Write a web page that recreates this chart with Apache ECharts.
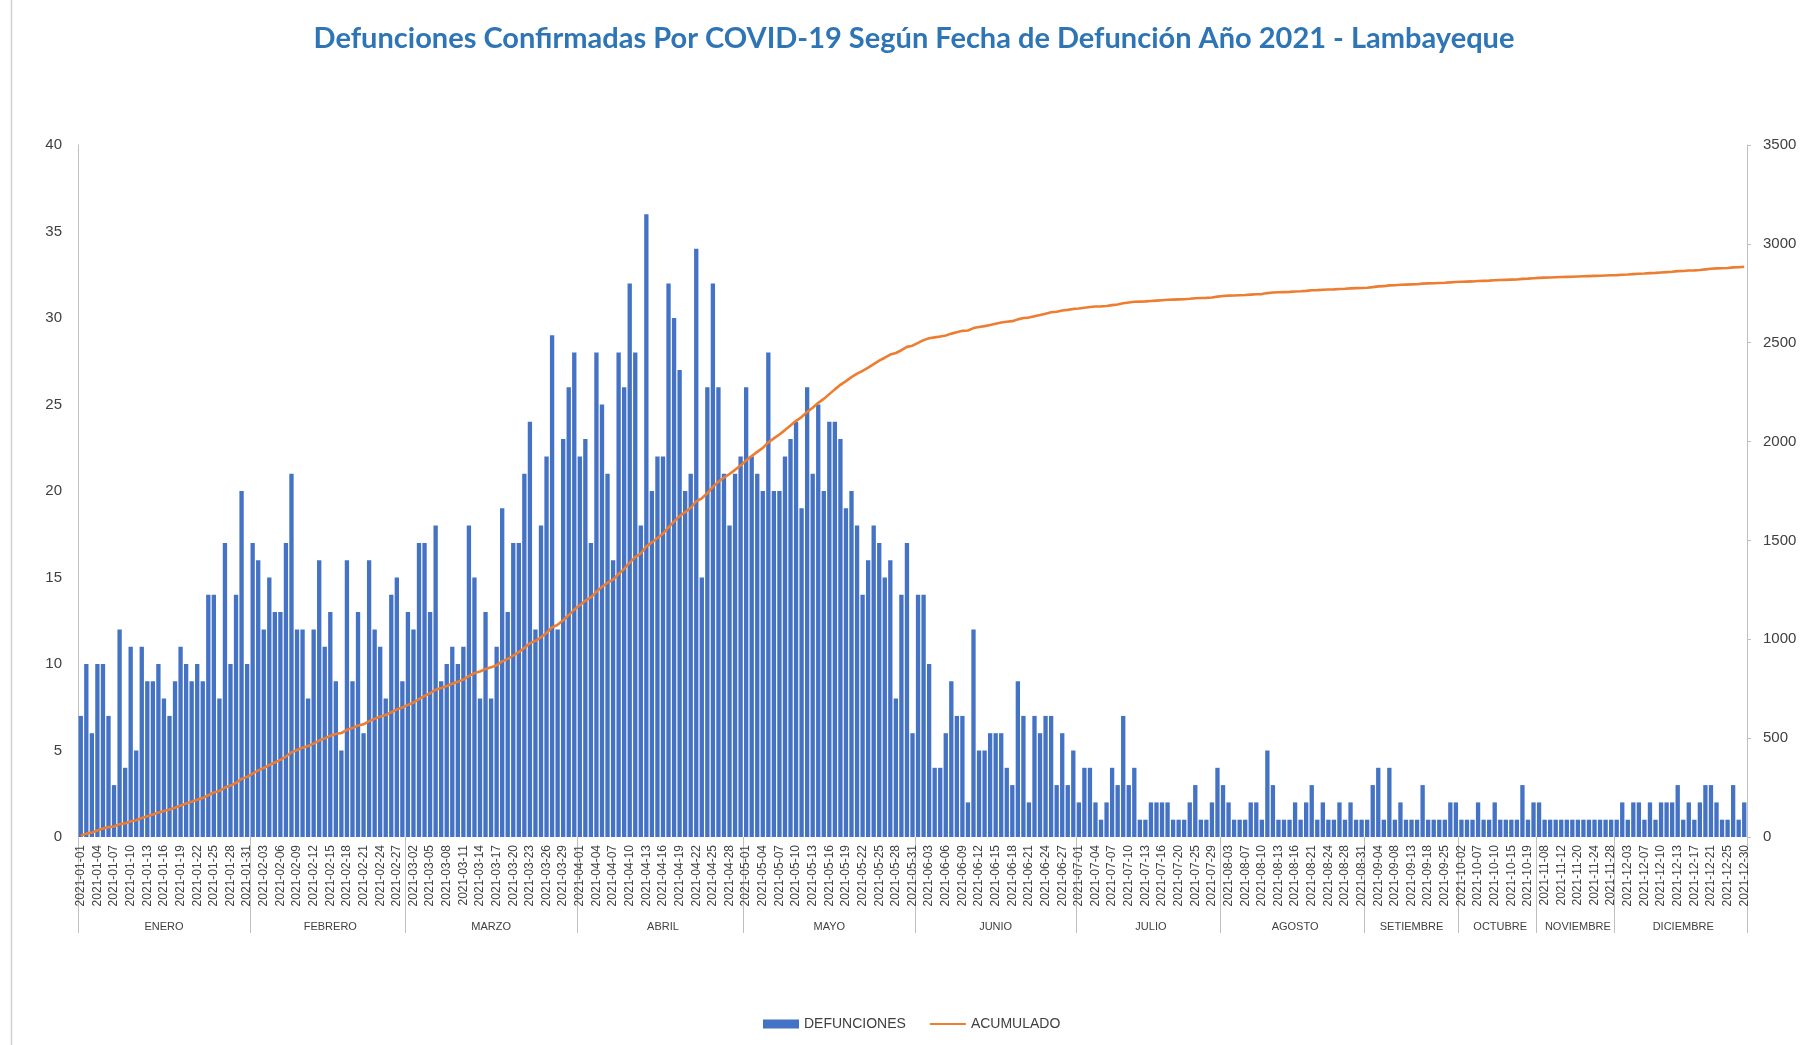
<!DOCTYPE html>
<html>
<head>
<meta charset="utf-8">
<title>Defunciones COVID-19 Lambayeque 2021</title>
<script src="https://cdn.jsdelivr.net/npm/echarts@6/dist/echarts.min.js"></script>
<style>
  html, body { margin: 0; padding: 0; background: #ffffff; }
  #chart { width: 1811px; height: 1045px; }
</style>
</head>
<body>
<div id="chart"></div>
<script>
// Rango de días consecutivos (para meses con registro diario completo)
function rango(a, b) {
  const r = [];
  for (let d = a; d <= b; d++) r.push(d);
  return r;
}

const meses = ['ENERO', 'FEBRERO', 'MARZO', 'ABRIL', 'MAYO', 'JUNIO', 'JULIO',
               'AGOSTO', 'SETIEMBRE', 'OCTUBRE', 'NOVIEMBRE', 'DICIEMBRE'];

// Días del mes con defunciones registradas
const diasEnero      = rango(1, 31);
const diasFebrero    = rango(1, 28);
const diasMarzo      = rango(1, 31);
const diasAbril      = rango(1, 30);
const diasMayo       = rango(1, 31);
const diasJunio      = rango(1, 27).concat([29, 30]);
const diasJulio      = rango(1, 18).concat([20, 21, 22, 25, 26, 27, 29, 30]);
const diasAgosto     = [2, 3, 4, 5, 7, 8, 9, 10, 11, 12, 13, 14, 15, 16, 18, 19, 21, 22, 23, 24, 25, 26, 28, 29, 30, 31];
const diasSetiembre  = [2, 3, 4, 6, 7, 8, 10, 11, 13, 15, 16, 18, 20, 22, 25, 27, 29];
const diasOctubre    = [2, 4, 5, 7, 8, 9, 10, 12, 13, 15, 16, 17, 19, 22];
const diasNoviembre  = [5, 8, 9, 10, 12, 15, 18, 20, 21, 23, 24, 25, 27, 28];
const diasDiciembre  = [1, 2, 3, 4, 6, 7, 8, 9, 10, 11, 12, 13, 14, 16, 17, 18, 20, 21, 22, 23, 25, 27, 28, 30];

// Defunciones diarias por mes
const defEnero     = [7, 10, 6, 10, 10, 7, 3, 12, 4, 11, 5, 11, 9, 9, 10, 8, 7, 9, 11, 10, 9, 10, 9, 14, 14, 8, 17, 10, 14, 20, 10];
const defFebrero   = [17, 16, 12, 15, 13, 13, 17, 21, 12, 12, 8, 12, 16, 11, 13, 9, 5, 16, 9, 13, 6, 16, 12, 11, 8, 14, 15, 9];
const defMarzo     = [13, 12, 17, 17, 13, 18, 9, 10, 11, 10, 11, 18, 15, 8, 13, 8, 11, 19, 13, 17, 17, 21, 24, 12, 18, 22, 29, 12, 23, 26, 28];
const defAbril     = [22, 23, 17, 28, 25, 21, 16, 28, 26, 32, 28, 18, 36, 20, 22, 22, 32, 30, 27, 20, 21, 34, 15, 26, 32, 26, 21, 18, 21, 22];
const defMayo      = [26, 22, 21, 20, 28, 20, 20, 22, 23, 24, 19, 26, 21, 25, 20, 24, 24, 23, 19, 20, 18, 14, 16, 18, 17, 15, 16, 8, 14, 17, 6];
const defJunio     = [14, 14, 10, 4, 4, 6, 9, 7, 7, 2, 12, 5, 5, 6, 6, 6, 4, 3, 9, 7, 2, 7, 6, 7, 7, 3, 6, 3, 5];
const defJulio     = [2, 4, 4, 2, 1, 2, 4, 3, 7, 3, 4, 1, 1, 2, 2, 2, 2, 1, 1, 1, 2, 3, 1, 1, 2, 4];
const defAgosto    = [3, 2, 1, 1, 1, 2, 2, 1, 5, 3, 1, 1, 1, 2, 1, 2, 3, 1, 2, 1, 1, 2, 1, 2, 1, 1];
const defSetiembre = [1, 3, 4, 1, 4, 1, 2, 1, 1, 1, 3, 1, 1, 1, 1, 2, 2];
const defOctubre   = [1, 1, 1, 2, 1, 1, 2, 1, 1, 1, 1, 3, 1, 2];
const defNoviembre = [2, 1, 1, 1, 1, 1, 1, 1, 1, 1, 1, 1, 1, 1];
const defDiciembre = [1, 2, 1, 2, 2, 1, 2, 1, 2, 2, 2, 3, 1, 2, 1, 2, 3, 3, 2, 1, 1, 3, 1, 2];

const diasPorMes = [diasEnero, diasFebrero, diasMarzo, diasAbril, diasMayo, diasJunio,
                    diasJulio, diasAgosto, diasSetiembre, diasOctubre, diasNoviembre, diasDiciembre];
const defPorMes  = [defEnero, defFebrero, defMarzo, defAbril, defMayo, defJunio,
                    defJulio, defAgosto, defSetiembre, defOctubre, defNoviembre, defDiciembre];

// Fechas (categorías), defunciones y acumulado
const fechas = [];
const defunciones = [];
const inicioMes = new Set();
const centroMes = {};
const pad = (n) => (n < 10 ? '0' : '') + n;
diasPorMes.forEach(function (dias, m) {
  const inicio = fechas.length;
  inicioMes.add(inicio);
  centroMes[inicio + Math.floor(dias.length / 2)] = meses[m];
  dias.forEach(function (d, k) {
    fechas.push('2021-' + pad(m + 1) + '-' + pad(d));
    defunciones.push(defPorMes[m][k]);
  });
});
const acumulado = [];
defunciones.reduce(function (suma, v) { suma += v; acumulado.push(suma); return suma; }, 0);

const textoEje = '#404040';
const lineaEje = '#bfbfbf';
const fuente = "'Liberation Sans', Arial, sans-serif";

const chart = echarts.init(document.getElementById('chart'), null, { renderer: 'canvas' });
chart.setOption({
  animation: false,
  backgroundColor: '#ffffff',
  title: {
    text: 'Defunciones Confirmadas Por COVID-19 Según Fecha de Defunción Año 2021 - Lambayeque',
    left: 909,
    textAlign: 'center',
    top: 19,
    textStyle: {
      color: '#2E75B6',
      fontSize: 29,
      fontWeight: 'bold',
      fontFamily: "Lato, 'Liberation Sans', sans-serif"
    }
  },
  legend: {
    left: 763,
    bottom: 14,
    padding: 0,
    itemWidth: 36,
    itemHeight: 9,
    itemGap: 24,
    textStyle: { color: textoEje, fontSize: 14, fontFamily: fuente },
    data: [
      { name: 'DEFUNCIONES', icon: 'rect' },
      { name: 'ACUMULADO', icon: 'path://M0,0 M0,3.4 L36,3.4 L36,5.6 L0,5.6 Z M36,9' }
    ]
  },
  grid: { left: 78, right: 64, top: 145, bottom: 208, containLabel: false },
  xAxis: [
    {
      type: 'category',
      data: fechas,
      position: 'bottom',
      boundaryGap: true,
      axisLine: { show: false },
      axisTick: {
        show: true,
        interval: function (i) { return inicioMes.has(i); },
        length: 96,
        lineStyle: { color: lineaEje, width: 1 }
      },
      axisLabel: {
        interval: 2,
        rotate: 90,
        margin: 8,
        fontSize: 12,
        color: textoEje,
        fontFamily: fuente
      },
      splitLine: { show: false }
    },
    {
      type: 'category',
      data: fechas,
      position: 'bottom',
      offset: 78,
      boundaryGap: true,
      axisLine: { show: false },
      axisTick: { show: false },
      axisLabel: {
        interval: function (i) { return centroMes[i] !== undefined; },
        formatter: function (v, i) { return centroMes[i] || ''; },
        margin: 6,
        fontSize: 11,
        color: textoEje,
        fontFamily: fuente
      },
      splitLine: { show: false }
    }
  ],
  yAxis: [
    {
      type: 'value',
      min: 0,
      max: 40,
      interval: 5,
      position: 'left',
      axisLine: { show: true, lineStyle: { color: lineaEje } },
      axisTick: { show: false },
      splitLine: { show: false },
      axisLabel: { fontSize: 15, color: textoEje, margin: 16, fontFamily: fuente }
    },
    {
      type: 'value',
      min: 0,
      max: 3500,
      interval: 500,
      position: 'right',
      axisLine: { show: true, lineStyle: { color: lineaEje } },
      axisTick: { show: true, length: 4, lineStyle: { color: lineaEje } },
      splitLine: { show: false },
      axisLabel: {
        fontSize: 15,
        color: textoEje,
        margin: 16,
        fontFamily: fuente,
        formatter: function (v) { return String(v); }
      }
    }
  ],
  series: [
    {
      name: 'DEFUNCIONES',
      type: 'bar',
      xAxisIndex: 0,
      yAxisIndex: 0,
      data: defunciones,
      barCategoryGap: '22%',
      itemStyle: { color: '#4472C4' }
    },
    {
      name: 'ACUMULADO',
      type: 'line',
      xAxisIndex: 0,
      yAxisIndex: 1,
      data: acumulado,
      symbol: 'none',
      lineStyle: { color: '#ED7D31', width: 2.6 },
      itemStyle: { color: '#ED7D31' }
    }
  ],
  graphic: [
    {
      type: 'line',
      shape: { x1: 11.5, y1: 0, x2: 11.5, y2: 1045 },
      style: { stroke: '#d0d0d0', lineWidth: 1.5 },
      silent: true
    }
  ]
});
</script>
</body>
</html>
